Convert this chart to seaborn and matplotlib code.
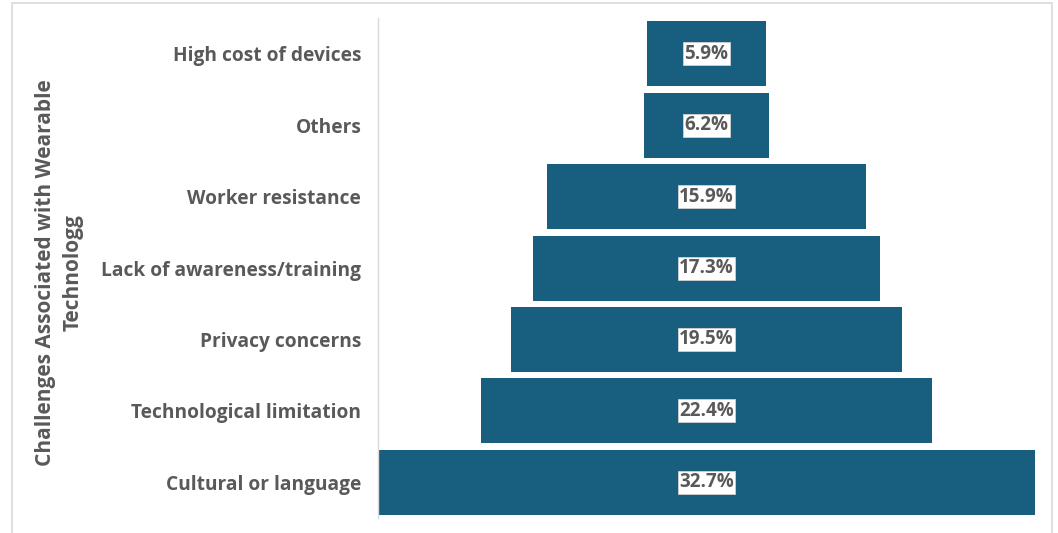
import matplotlib
matplotlib.use("Agg")
import matplotlib.pyplot as plt
import seaborn as sns
import pandas as pd
from matplotlib.patches import Rectangle

categories = ["High cost of devices", "Others", "Worker resistance",
              "Lack of awareness/training", "Privacy concerns",
              "Technological limitation", "Cultural or language"]
values = [5.9, 6.2, 15.9, 17.3, 19.5, 22.4, 32.7]
value_labels = ["5.9%", "6.2%", "15.9%", "17.3%", "19.5%", "22.4%", "32.7%"]

sns.set_theme(style="white")
plt.rcParams['font.family'] = ['Open Sans', 'DejaVu Sans']

df = pd.DataFrame({"cat": categories, "val": values})
df["right"] = df["val"] / 2
df["left"] = -df["val"] / 2

fig = plt.figure(figsize=(10.58, 5.33), dpi=100)
ax = fig.add_axes([378/1058, 15/533, (1035-378)/1058, 500/533])

bar_color = "#175e7f"
sns.barplot(data=df, x="right", y="cat", orient="h", color=bar_color,
            width=0.91, ax=ax, saturation=1, linewidth=0)
sns.barplot(data=df, x="left", y="cat", orient="h", color=bar_color,
            width=0.91, ax=ax, saturation=1, linewidth=0)

m = max(values) / 2
ax.set_xlim(-m, m)
ax.set_ylim(len(categories) - 0.5, -0.5)

for i, lab in enumerate(value_labels):
    ax.text(0, i, lab, ha="center", va="center", fontsize=13.5,
            fontweight="bold", color="#595959",
            bbox=dict(boxstyle="square,pad=0.08", facecolor="white",
                      edgecolor="#d0d0d0", linewidth=0.6))

ax.set_xticks([])
ax.set_xlabel("")
ax.set_ylabel("Challenges Associated with Wearable\nTechnologg",
              fontsize=15, fontweight="bold", color="#595959",
              linespacing=1.45)
ax.yaxis.set_label_coords((84 - 378) / 657, 0.49)
ax.tick_params(axis="y", length=0, pad=12)
for t in ax.get_yticklabels():
    t.set_fontweight("bold")
    t.set_fontsize(13.8)
    t.set_color("#595959")

for s in ["top", "right", "bottom"]:
    ax.spines[s].set_visible(False)
ax.spines["left"].set_color("#d9d9d9")
ax.spines["left"].set_linewidth(1)

fig.patches.append(Rectangle((12/1058, -0.01), (1052-12)/1058, (533-3)/533 + 0.01,
                             transform=fig.transFigure, fill=False,
                             edgecolor="#d9d9d9", linewidth=1.2))

fig.savefig("out.png", dpi=100)
